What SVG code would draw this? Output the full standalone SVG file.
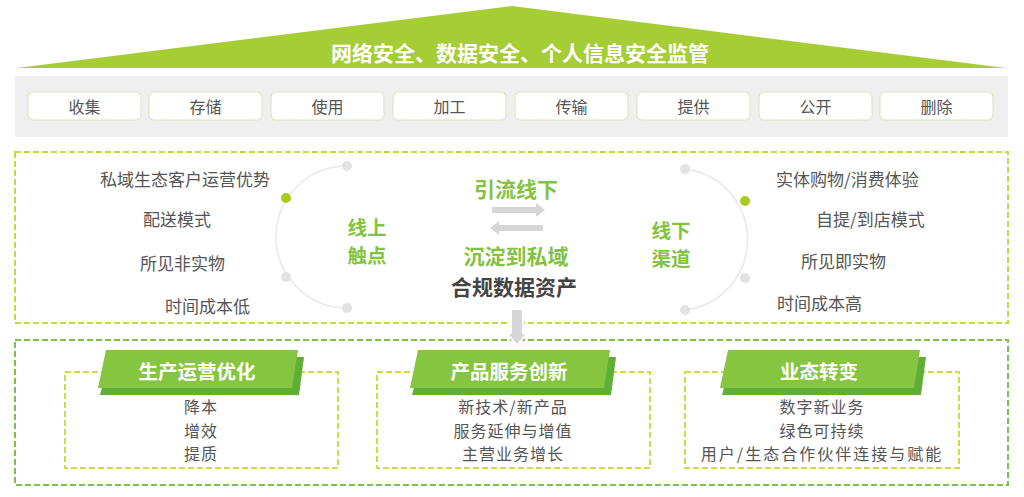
<svg xmlns="http://www.w3.org/2000/svg" width="1024" height="497" viewBox="0 0 1024 497">
<defs>
<style>
text{font-family:"Noto Sans CJK SC","Noto Sans",sans-serif;}
.step rect{fill:#fff;stroke:#dbe8bf;stroke-width:1.2;}
.step text{font-size:16px;fill:#555;text-anchor:middle;dominant-baseline:central;}
.feat{font-size:17px;fill:#555;dominant-baseline:central;}
.gr{font-size:21px;font-weight:bold;fill:#82c341;text-anchor:middle;dominant-baseline:central;}
.gr2{font-size:19.5px;font-weight:bold;fill:#82c341;text-anchor:middle;dominant-baseline:central;}
.dk{font-size:21px;font-weight:bold;fill:#444;text-anchor:middle;dominant-baseline:central;}
.arc{fill:none;stroke:#e9e9e9;stroke-width:1.6;}
.dotg{fill:#e2e2e2;}
.dotl{fill:#a8cc1c;}
.dash1{fill:none;stroke:#c5da3c;stroke-width:2;stroke-dasharray:6 3;}
.dash2{fill:none;stroke:#7fc04a;stroke-width:2;stroke-dasharray:6 3;}
.dash3{fill:none;stroke:#cddc40;stroke-width:2;stroke-dasharray:6 3;}
.bnf{fill:#86c540;}
.bns{fill:#5faf36;}
.bnt{font-size:19.5px;font-weight:bold;fill:#fff;text-anchor:middle;dominant-baseline:central;}
.it{font-size:16px;fill:#555;text-anchor:middle;dominant-baseline:central;letter-spacing:1px;}
.garrow{fill:#d6d6d6;}
</style>
</defs>
<rect width="1024" height="497" fill="#fff"/>

<g id="roof">
<polygon points="17,68 512,6 1006,68" fill="#a5cd35"/>
<text x="520" y="52" font-size="21" font-weight="bold" fill="#fff" text-anchor="middle" dominant-baseline="central">网络安全、数据安全、个人信息安全监管</text>
</g>

<g id="lifecycle">
<rect x="15" y="76" width="993" height="61" fill="#efefef"/>
<g class="step" id="s1"><rect x="28" y="92" width="113" height="28" rx="5"/><text x="84.5" y="106">收集</text></g>
<g class="step" id="s2"><rect x="149" y="92" width="113" height="28" rx="5"/><text x="205.5" y="106">存储</text></g>
<g class="step" id="s3"><rect x="271" y="92" width="113" height="28" rx="5"/><text x="327.5" y="106">使用</text></g>
<g class="step" id="s4"><rect x="393" y="92" width="113" height="28" rx="5"/><text x="449.5" y="106">加工</text></g>
<g class="step" id="s5"><rect x="515" y="92" width="113" height="28" rx="5"/><text x="571.5" y="106">传输</text></g>
<g class="step" id="s6"><rect x="637" y="92" width="113" height="28" rx="5"/><text x="693.5" y="106">提供</text></g>
<g class="step" id="s7"><rect x="759" y="92" width="113" height="28" rx="5"/><text x="815.5" y="106">公开</text></g>
<g class="step" id="s8"><rect x="880" y="92" width="113" height="28" rx="5"/><text x="936.5" y="106">删除</text></g>
</g>

<g id="middle">
<rect class="dash1" x="15" y="152" width="993" height="171"/>
</g>

<g id="online">
<path class="arc" d="M347 166 A71 71 0 0 0 347 308"/>
<circle class="dotg" cx="347" cy="166" r="5"/>
<circle class="dotl" cx="286" cy="198" r="5"/>
<circle class="dotg" cx="286" cy="277" r="5"/>
<circle class="dotg" cx="347" cy="308" r="5"/>
<text class="gr2" x="367" y="226">线上</text>
<text class="gr2" x="367" y="254.5">触点</text>
<text class="feat" x="100" y="178">私域生态客户运营优势</text>
<text class="feat" x="143" y="218">配送模式</text>
<text class="feat" x="140" y="262">所见非实物</text>
<text class="feat" x="165" y="305">时间成本低</text>
</g>

<g id="offline">
<path class="arc" d="M685 169 A71 71 0 0 1 685 310"/>
<circle class="dotg" cx="685" cy="169" r="5"/>
<circle class="dotl" cx="745" cy="201" r="5"/>
<circle class="dotg" cx="745" cy="278" r="5"/>
<circle class="dotg" cx="685" cy="310" r="5"/>
<text class="gr2" x="671" y="229">线下</text>
<text class="gr2" x="671" y="257.5">渠道</text>
<text class="feat" x="776" y="178">实体购物/消费体验</text>
<text class="feat" x="816" y="218">自提/到店模式</text>
<text class="feat" x="801" y="260">所见即实物</text>
<text class="feat" x="777" y="302">时间成本高</text>
</g>

<g id="center">
<text class="gr" x="516" y="188">引流线下</text>
<text class="gr" x="516" y="255">沉淀到私域</text>
<text class="dk" x="514" y="286">合规数据资产</text>
</g>

<g id="bottom">
<rect class="dash2" x="15" y="340" width="993" height="145"/>
</g>

<g id="connectors">
<path class="garrow" d="M492 207 H536 V203 L545 210 L536 217 V213 H492 Z"/>
<path class="garrow" d="M543 225 H499 V221 L490 228 L499 235 V231 H543 Z"/>
<path class="garrow" d="M512 310 H522 V334 H525 L517 344 L509 334 H512 Z" stroke="#fff" stroke-width="4" paint-order="stroke"/>
</g>

<g id="b1">
<rect class="dash3" x="65" y="372" width="273" height="96"/>
<polygon class="bns" points="110,357 304,357 299,395 100,395"/>
<polygon class="bnf" points="106,350 298,350 292,388 98,388"/>
<text class="bnt" x="197" y="370">生产运营优化</text>
<text class="it" x="201" y="406">降本</text>
<text class="it" x="201" y="429.5">增效</text>
<text class="it" x="201" y="453">提质</text>
</g>

<g id="b2">
<rect class="dash3" x="377" y="372" width="273" height="96"/>
<polygon class="bns" points="422,357 616,357 611,395 412,395"/>
<polygon class="bnf" points="418,350 610,350 604,388 410,388"/>
<text class="bnt" x="509" y="370">产品服务创新</text>
<text class="it" x="513" y="406">新技术/新产品</text>
<text class="it" x="513" y="429.5">服务延伸与增值</text>
<text class="it" x="513" y="453">主营业务增长</text>
</g>

<g id="b3">
<rect class="dash3" x="685" y="372" width="274" height="96"/>
<polygon class="bns" points="732,357 926,357 921,395 722,395"/>
<polygon class="bnf" points="728,350 920,350 914,388 720,388"/>
<text class="bnt" x="819" y="370">业态转变</text>
<text class="it" x="822" y="406">数字新业务</text>
<text class="it" x="822" y="429.5">绿色可持续</text>
<text class="it" x="822" y="453" style="letter-spacing:2px">用户/生态合作伙伴连接与赋能</text>
</g>
</svg>
